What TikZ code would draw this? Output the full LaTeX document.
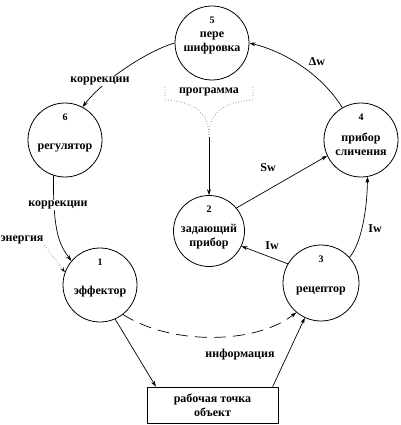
\documentclass[tikz,border=0pt]{standalone}
\usepackage{fontspec}
\setmainfont{Liberation Serif}
\usepackage{xcolor}
\usepackage{tikz}
\usetikzlibrary{arrows.meta, positioning}
\tikzset{
  unit/.style={circle, draw, line width=0.8pt, minimum size=74pt, inner sep=0pt, align=center, font=\bfseries\fontsize{12}{14}\selectfont},
  oneline/.style={text height=21pt, text depth=3pt},
  twoline/.style={text height=32pt, text depth=2pt},
  numlbl/.style={below=11pt, inner sep=0pt, font=\bfseries\fontsize{10}{12}\selectfont},
  objbox/.style={rectangle, draw, line width=0.8pt, minimum width=131pt, minimum height=36pt, align=center, font=\bfseries\fontsize{12}{14}\selectfont},
  lbl/.style={inner sep=1pt, font=\bfseries\fontsize{12}{14}\selectfont},
  arr/.style={-{Stealth[length=6pt, width=4pt]}, line width=0.7pt},
  dots/.style={dotted, line width=0.7pt, gray},
}
\begin{document}
\begin{tikzpicture}[x=1pt, y=-1pt]
\useasboundingbox (0,0) rectangle (400,425);
\node[unit, label={[numlbl]north:5}] (pere) at (212,43) {пере\\шифровка};
\node[unit, oneline, label={[numlbl]north:6}] (reg) at (65,140) {регулятор};
\node[unit, twoline, label={[numlbl]north:4}] (sli) at (361,140) {прибор\\сличения};
\node[unit, twoline, minimum size=71pt, label={[numlbl]north:2}] (zad) at (209,231) {задающий\\прибор};
\node[unit, oneline, label={[numlbl]north:1}] (eff) at (100,285) {эффектор};
\node[unit, oneline, minimum size=76pt, label={[numlbl]north:3}] (rec) at (321,283) {рецептор};
\node[objbox] (obj) at (212.5,405) {рабочая точка\\объект};
\node[lbl] (prog) at (209,92) {программа};
\node[lbl] (dw) at (317,62) {Δw};
\node[lbl] (sw) at (268,168) {Sw};
\node[lbl] (iw1) at (272,246) {Iw};
\node[lbl] (iw2) at (375,229) {Iw};
\node[lbl] (energy) at (22,240) {энергия};
\node[lbl] (info) at (240,355) {информация};
\coordinate (progL) at (165,87);
\coordinate (progR) at (253,87);
\coordinate (progM) at (209,137);
\draw[arr] (sli.120) .. controls (322,75) and (286,52) .. (pere.east);
\draw[arr] (pere.west) .. controls (150,50) and (105,78) .. (reg.62);
\draw[arr] (reg.252) .. controls (53,235) and (60,245) .. (eff.140);
\draw[dots, -{Stealth[length=5pt, width=3.5pt, black]}] (energy.south east) -- (eff.160);
\draw[dots] (progL) -- ++(0,13) .. controls (198,102) and (209,115) .. (progM);
\draw[dots] (progR) -- ++(0,13) .. controls (220,102) and (209,115) .. (progM);
\draw[arr] (progM) -- (zad.north);
\draw[arr] (zad.40) -- (sli.205);
\draw[arr] (rec.150) -- (zad.-25);
\draw[arr] (rec.42) .. controls (360,245) and (367,215) .. (sli.-80);
\draw[arr, dash pattern=on 12pt off 7pt] (eff.-52) .. controls (170,345) and (255,345) .. (rec.-130);
\draw[arr] (eff.-66) -- (obj.162);
\draw[arr] (obj.17) -- (rec.-115);
\node[lbl, fill=white] (korr1) at (100,81) {коррекции};
\node[lbl, fill=white] (korr2) at (58,205) {коррекции};
\end{tikzpicture}
\end{document}
